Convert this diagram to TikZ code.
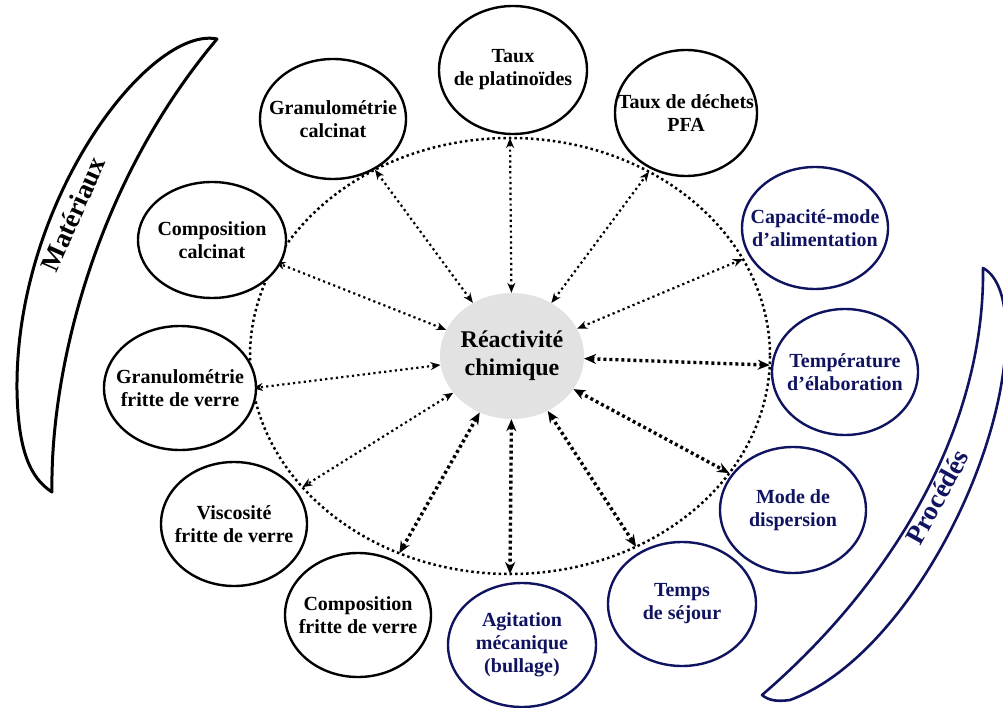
\documentclass[tikz,border=0pt]{standalone}
\usepackage{fontspec}
\setmainfont{Liberation Serif}
\usetikzlibrary{shapes.geometric,arrows.meta}
\definecolor{navy}{RGB}{16,20,96}
\definecolor{centergray}{RGB}{226,226,226}
\begin{document}
\begin{tikzpicture}[x=1pt,y=-1pt,
  lab/.style={align=center, inner sep=0pt, font=\fontsize{20}{23}\selectfont\bfseries},
  bubble/.style={ellipse, line width=2.4pt, inner sep=0pt, fill=white},
  blk/.style={bubble, draw=black},
  blu/.style={bubble, draw=navy},
  ring/.style={line width=2.5pt, dash pattern=on 2.5pt off 3pt},
  lnk/.style={{Stealth[length=10pt,width=8pt]}-{Stealth[length=10pt,width=8pt]}, line width=2.2pt, dash pattern=on 2.2pt off 3.2pt},
  lnkb/.style={{Stealth[length=12pt,width=10pt]}-{Stealth[length=12pt,width=10pt]}, line width=3.4pt, dash pattern=on 3pt off 3pt},
  banner/.style={line width=3pt, fill=white, line join=round},
  bannertext/.style={inner sep=0pt, font=\fontsize{27}{30}\selectfont\bfseries}]
\useasboundingbox (0,0) rectangle (1003,708);
\clip (0,0) rectangle (1003,708);

% banners
\draw[banner, draw=black] (217,39) .. controls (150,25) and (15,200) .. (17,390)
  .. controls (18,450) and (30,478) .. (52,492)
  .. controls (50,380) and (90,190) .. (217,39) -- cycle;
\node[bannertext, rotate=66] (mat) at (73,214) {Matériaux};

\draw[banner, draw=navy, line width=2.6pt] (983,268) .. controls (998,276) and (1007,300) .. (1006,340)
  .. controls (1002,470) and (900,660) .. (790,700)
  .. controls (776,702) and (768,700) .. (762,695)
  .. controls (890,585) and (985,430) .. (983,268) -- cycle;
\node[bannertext, rotate=61, text=navy] (pro) at (937,497) {Procédés};

% dotted ring
\coordinate (O) at (510,356);
\draw[ring] (O) ellipse [x radius=260, y radius=218];

% centre
\node[ellipse, fill=centergray, inner sep=0pt, minimum width=144pt, minimum height=126pt,
  label={[align=center, inner sep=0pt, font=\fontsize{24}{28}\selectfont\bfseries]center:Réactivité\\chimique}] (c) at (512,356) {};

% arrow end points on the ring
\path (O) ++(-90:260 and 218) coordinate (t1);
\path (O) ++(-57.7:260 and 218) coordinate (t2);
\path (O) ++(-121.3:260 and 218) coordinate (t3);
\path (O) ++(-154.5:260 and 218) coordinate (t4);
\path (O) ++(-188.5:260 and 218) coordinate (t5);
\path (O) ++(-217:260 and 218) coordinate (t6);
\path (O) ++(-244.8:260 and 218) coordinate (t7);
\path (O) ++(-270:260 and 218) coordinate (t8);
\path (O) ++(-299:260 and 218) coordinate (t9);
\path (O) ++(-327.5:260 and 218) coordinate (t10);
\path (O) ++(-357.6:260 and 218) coordinate (t11);
\path (O) ++(-26.4:260 and 218) coordinate (t12);

\draw[lnk] (c) -- (t1);
\draw[lnk] (c) -- (t2);
\draw[lnk] (c) -- (t3);
\draw[lnk] (c) -- (t4);
\draw[lnk] (c) -- (t5);
\draw[lnk] (c) -- (t6);
\draw[lnkb] (c) -- (t7);
\draw[lnkb] (c) -- (t8);
\draw[lnkb] (c) -- (t9);
\draw[lnkb] (c) -- (t10);
\draw[lnkb] (c) -- (t11);
\draw[lnk] (c) -- (t12);

% outer bubbles
\node[blk, minimum width=148pt, minimum height=128pt, label={[lab]center:Taux\\de platinoïdes}] (tp) at (513,70) {};
\node[blk, minimum width=142pt, minimum height=126pt, label={[lab]center:Taux de déchets\\PFA}] (pfa) at (686,113) {};
\node[blk, minimum width=146pt, minimum height=120pt, label={[lab]center:Granulométrie\\calcinat}] (gc) at (333,119) {};
\node[blk, minimum width=148pt, minimum height=116pt, label={[lab]center:Composition\\calcinat}] (cc) at (212,240) {};
\node[blk, minimum width=152pt, minimum height=124pt, label={[lab]center:Granulométrie\\fritte de verre}] (gf) at (180,388) {};
\node[blk, minimum width=146pt, minimum height=124pt, label={[lab]center:Viscosité\\fritte de verre}] (vf) at (234,524) {};
\node[blk, minimum width=146pt, minimum height=124pt, label={[lab]center:Composition\\fritte de verre}] (cf) at (358,615) {};

\node[blu, minimum width=148pt, minimum height=124pt, label={[lab, text=navy]center:Agitation\\mécanique\\(bullage)}] (ag) at (522,645) {};
\node[blu, minimum width=148pt, minimum height=124pt, label={[lab, text=navy]center:Temps\\de séjour}] (ts) at (682,604) {};
\node[blu, minimum width=146pt, minimum height=126pt, label={[lab, text=navy]center:Mode de\\dispersion}] (md) at (793,510) {};
\node[blu, minimum width=146pt, minimum height=126pt, label={[lab, text=navy]center:Température\\d’élaboration}] (te) at (845,372) {};
\node[blu, minimum width=146pt, minimum height=122pt, label={[lab, text=navy]center:Capacité-mode\\d’alimentation}] (ca) at (815,228) {};
\end{tikzpicture}
\end{document}
